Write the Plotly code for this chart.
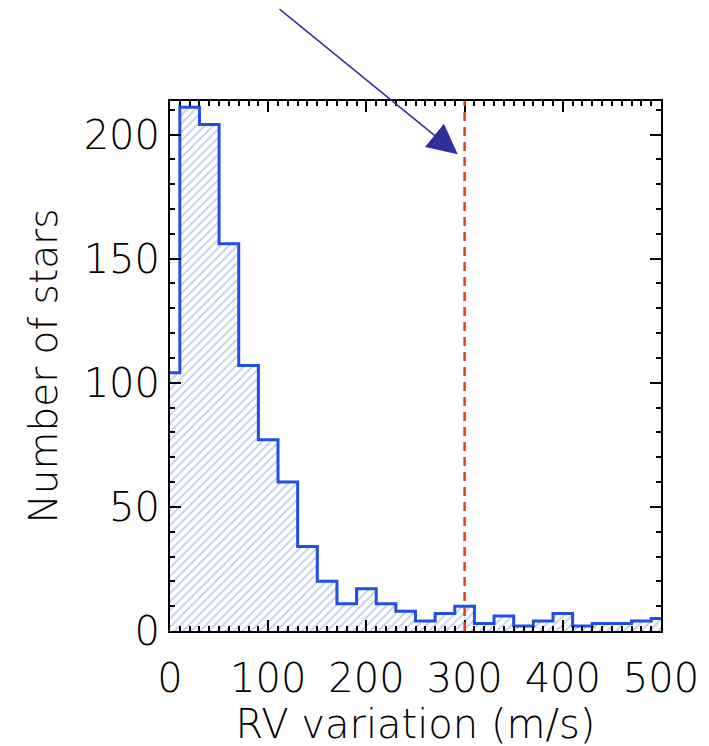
import plotly.graph_objects as go

# Histogram of RV variation (bins of 20 m/s centred on multiples of 20)
bin_centers = [0, 20, 40, 60, 80, 100, 120, 140, 160, 180, 200, 220, 240,
               260, 280, 300, 320, 340, 360, 380, 400, 420, 440, 460, 480, 500]
counts = [104, 211, 204, 156, 107, 77, 60, 34, 20, 11, 17, 11, 8,
          4, 7, 10, 3, 6, 2, 4, 7, 2, 3, 3, 4, 5]
bin_width = 20
x_range = [0, 500]
y_range = [0, 213.5]
cut_value = 300
x_ticks = [0, 100, 200, 300, 400, 500]
y_ticks = [0, 50, 100, 150, 200]

# step outline edges (clipped to plotted range)
edges = [max(x_range[0], c - bin_width / 2) for c in bin_centers] + [x_range[1]]
step_y = counts + [counts[-1]]

BLUE = "#1f4fe6"
HATCH = "#7d95d4"
RED = "#e2411c"
NAVY = "#2f2f9c"
FONT = "DejaVu Sans"
FW = 200

fig = go.Figure()
fig.add_trace(go.Bar(
    x=bin_centers, y=counts, width=bin_width,
    marker=dict(color="white", line=dict(width=0),
                pattern=dict(shape="/", fgcolor=HATCH, bgcolor="white",
                             size=6, solidity=0.3)),
    showlegend=False, hoverinfo="skip"))
fig.add_trace(go.Scatter(
    x=edges, y=step_y, mode="lines", line=dict(color=BLUE, width=3, shape="hv"),
    showlegend=False, hoverinfo="skip"))

fig.add_shape(type="line", xref="x", yref="paper", x0=cut_value, x1=cut_value,
              y0=0, y1=1, line=dict(color=RED, width=2.5, dash="9px,6px"))

fig.add_annotation(x=293, y=192, xref="x", yref="y", ax=110, ay=251,
                   axref="x", ayref="y", showarrow=True, arrowhead=2,
                   arrowsize=4, arrowwidth=1.5, arrowcolor=NAVY, text="")

axis_common = dict(
    showline=True, linecolor="black", linewidth=2, mirror="ticks",
    ticks="inside", tickcolor="black", tickwidth=2, ticklen=11,
    showgrid=False, zeroline=False,
    tickfont=dict(family=FONT, size=40, color="black", weight=FW),
    minor=dict(ticks="inside", ticklen=5, tickwidth=1.5, tickcolor="black",
               dtick=10, showgrid=False),
)

fig.update_xaxes(range=x_range, tickvals=x_ticks, ticklabelstandoff=11,
                 title=dict(text="RV variation (m/s)",
                            font=dict(family=FONT, size=40, color="black", weight=FW),
                            standoff=0),
                 **axis_common)
fig.update_yaxes(range=y_range, tickvals=y_ticks, ticklabelstandoff=0,
                 title=dict(text="Number of stars",
                            font=dict(family=FONT, size=39, color="black", weight=FW),
                            standoff=14),
                 **axis_common)

fig.update_layout(
    width=709, height=746,
    margin=dict(l=162, r=56, t=93, b=123),
    paper_bgcolor="white", plot_bgcolor="white",
    bargap=0, showlegend=False,
)

fig.write_html("out.html")
